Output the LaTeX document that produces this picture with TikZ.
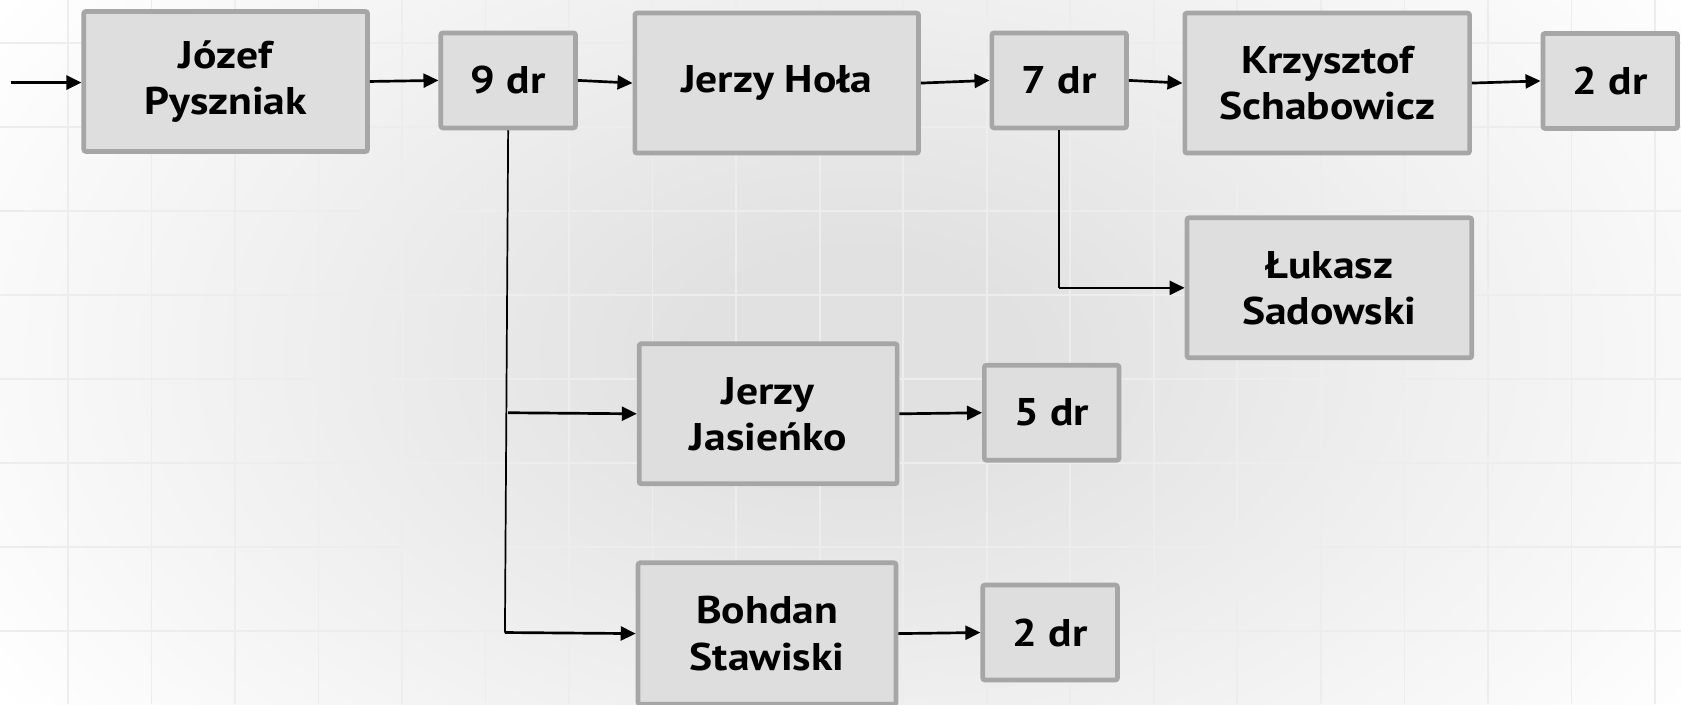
\documentclass[tikz,border=0pt]{standalone}
\usepackage{fontspec}
\setmainfont{PT Sans}[FakeStretch=1.13]
\usetikzlibrary{arrows.meta}

\definecolor{boxfill}{HTML}{DEDEDE}
\definecolor{boxline}{HTML}{A6A6A6}
\definecolor{bgin}{HTML}{E1E1E1}
\definecolor{bgout}{HTML}{FFFFFF}
\definecolor{gridline}{HTML}{EDEDED}

% soft radial glow; pgf fits the central 50bp square to the path
\pgfdeclareradialshading{bgglow}{\pgfpoint{0bp}{0bp}}{color(0bp)=(bgin); color(4bp)=(bgin); color(25bp)=(bgout); color(50bp)=(bgout)}

\tikzset{
  person/.style={draw=boxline, fill=boxfill, line width=2.2pt, rounded corners=1pt,
    minimum width=132.3pt, minimum height=65.3pt, inner sep=0pt,
    align=center, font=\fontsize{18pt}{21.5pt}\selectfont\bfseries},
  count/.style={person, minimum width=62.8pt, minimum height=44.3pt},
  arr/.style={line width=1.25pt, -{Triangle[length=7pt,width=6.5pt]}},
  trunk/.style={line width=0.8pt},
}

\begin{document}
\begin{tikzpicture}[x=0.5pt, y=-0.5pt]
  % canvas and background
  \useasboundingbox (0,0) rectangle (1568,657);
  \begin{scope}
    \clip (0,0) rectangle (1568,657);
    \shade[shading=bgglow] (-150,-270) rectangle (1750,930);
    \foreach \k in {0,...,19} {
      \draw[gridline, line width=0.75pt] ({63.5+77.9*\k},0) -- ({63.5+77.9*\k},657);
    }
    \foreach \k in {0,...,7} {
      \draw[gridline, line width=0.75pt] (0,{40+78.4*\k}) -- (1568,{40+78.4*\k});
    }
  \end{scope}

  % top chain
  \node[person] (jp) at (210.5,76)  {Józef\\Pyszniak};
  \node[count]  (d9) at (474,75)    {9 dr};
  \node[person] (jh) at (724.5,77.5){Jerzy Hoła};
  \node[count]  (d7) at (988,75)    {7 dr};
  \node[person, minimum width=132.8pt] (ks) at (1238,77.5) {Krzysztof\\Schabowicz};
  \node[count]  (d2a) at (1502,75.5) {2 dr};

  % lower branches
  \node[person, minimum width=132.8pt] (ls) at (1240,268.5) {Łukasz\\Sadowski};
  \node[person, minimum width=120.3pt] (jj) at (716.5,386) {Jerzy\\Jasieńko};
  \node[count]  (d5) at (981,385)   {5 dr};
  \node[person, minimum width=120.3pt, minimum height=66pt] (bs) at (715.5,591) {Bohdan\\Stawiski};
  \node[count]  (d2b) at (979.5,590) {2 dr};

  % main line connectors
  \coordinate (in) at (10,77);
  \draw[arr] (in) -- (jp.west |- in);
  \draw[arr] (jp.east) -- (d9.west);
  \draw[arr] (d9.east) -- (jh.west);
  \draw[arr] (jh.east) -- (d7.west);
  \draw[arr] (d7.east) -- (ks.west);
  \draw[arr] (ks.east) -- (d2a.west);

  % branch from 9 dr
  \coordinate (t9) at (471,590);
  \coordinate (b9) at (474,385);
  \draw[trunk] (d9.south) -- (t9);
  \draw[arr] (b9) -- (jj.west);
  \draw[arr] (t9) -- (bs.west);
  \draw[arr] (jj.east) -- (d5.west);
  \draw[arr] (bs.east) -- (d2b.west);

  % branch from 7 dr
  \coordinate (t7) at (d7.south |- ls.west);
  \draw[trunk] (d7.south) -- (t7);
  \draw[arr] (t7) -- (ls.west);
\end{tikzpicture}
\end{document}
